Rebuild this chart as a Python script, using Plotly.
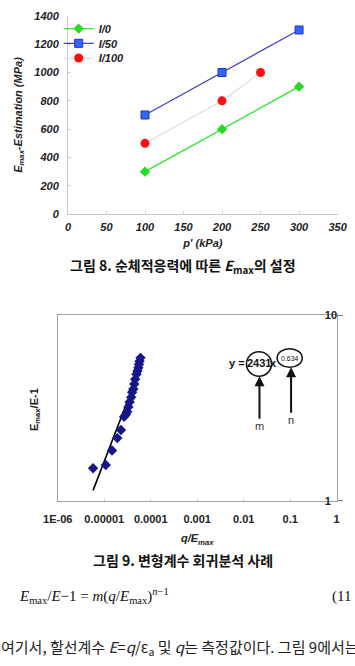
import plotly.graph_objects as go

W, H = 355, 666

# ---------- Figure 8 data ----------
p_i0 = [100, 200, 300]
e_i0 = [300, 600, 900]
p_i50 = [100, 200, 300]
e_i50 = [700, 1000, 1300]
p_i100 = [100, 200, 250]
e_i100 = [500, 800, 1000]
fig8_xticks = [0, 50, 100, 150, 200, 250, 300, 350]
fig8_yticks = [0, 200, 400, 600, 800, 1000, 1200, 1400]

# ---------- Figure 9 data ----------
q_over_emax = [5.75e-6, 1.08e-5, 1.47e-5, 1.91e-5, 2.29e-5, 2.67e-5, 2.92e-5,
               3.12e-5, 3.31e-5, 3.52e-5, 3.80e-5, 3.98e-5, 4.23e-5, 4.43e-5,
               4.63e-5, 4.94e-5, 5.18e-5, 5.42e-5, 5.57e-5, 5.75e-5, 6.03e-5]
emax_over_e_minus1 = [1.50, 1.56, 1.87, 2.18, 2.41, 2.84, 2.92, 3.02, 3.21, 3.41,
                      3.62, 3.85, 4.01, 4.26, 4.53, 4.81, 5.01, 5.22, 5.44, 5.66, 5.90]
trend_x = [5.75e-6, 6.3e-5]
trend_y = [1.14, 5.40]
fig9_xtickvals = [1e-6, 1e-5, 1e-4, 1e-3, 1e-2, 1e-1, 1]
fig9_xticktext = ["1E-06", "0.00001", "0.0001", "0.001", "0.01", "0.1", "1"]
fig9_ytickvals = [1, 10]
fig9_yticktext = ["1", "10"]


def px_x(v):
    return v / W


def px_y(v):
    return 1 - v / H


ARIAL = "Arial, Liberation Sans, sans-serif"
KR = "Noto Sans CJK KR, sans-serif"
SERIF = "Liberation Serif, Times New Roman, serif"

bi = dict(family=ARIAL, size=11, color="#222", weight="bold", style="italic")
bi_leg = dict(family=ARIAL, size=11, color="#222", weight="bold", style="italic")
b = dict(family=ARIAL, size=11, color="#222", weight="bold")

fig = go.Figure()

# Figure 8 traces
fig.add_trace(go.Scatter(x=p_i0, y=e_i0, name="I/0", mode="lines+markers",
                         line=dict(color="#33e633", width=1.3),
                         marker=dict(symbol="diamond", size=8, color="#22dd22"),
                         xaxis="x", yaxis="y", legend="legend"))
fig.add_trace(go.Scatter(x=p_i50, y=e_i50, name="I/50", mode="lines+markers",
                         line=dict(color="#4545c8", width=1.3),
                         marker=dict(symbol="square", size=8, color="#3366ff",
                                     line=dict(color="#2233bb", width=1)),
                         xaxis="x", yaxis="y", legend="legend2"))
fig.add_trace(go.Scatter(x=p_i100, y=e_i100, name="I/100", mode="lines+markers",
                         line=dict(color="#eadede", width=1.3),
                         marker=dict(symbol="circle", size=9, color="#ff1010"),
                         xaxis="x", yaxis="y", legend="legend3"))

# Figure 9 traces
fig.add_trace(go.Scatter(x=trend_x, y=trend_y, mode="lines",
                         line=dict(color="#000", width=1.6),
                         showlegend=False, xaxis="x2", yaxis="y2"))
fig.add_trace(go.Scatter(x=q_over_emax, y=emax_over_e_minus1, mode="markers",
                         marker=dict(symbol="diamond", size=8, color="#16168a"),
                         showlegend=False, xaxis="x2", yaxis="y2"))

leg_common = dict(font=bi_leg, bgcolor="rgba(0,0,0,0)", borderwidth=0,
                  xanchor="left", yanchor="middle", itemwidth=30)

fig.update_layout(
    width=W, height=H,
    margin=dict(l=0, r=0, t=0, b=0),
    paper_bgcolor="white", plot_bgcolor="white",
    legend=dict(x=px_x(47), y=px_y(23), **leg_common),
    legend2=dict(x=px_x(47), y=px_y(38), **leg_common),
    legend3=dict(x=px_x(47), y=px_y(53), **leg_common),
    xaxis=dict(domain=[px_x(57), px_x(347)], anchor="y", range=[0, 350],
               tickvals=fig8_xticks, tickfont=bi, showgrid=False,
               showline=True, linecolor="#c8c8c8", linewidth=1, mirror=False,
               ticks="inside", ticklen=3, tickcolor="#d0d0d0", zeroline=False,
               ticklabelstandoff=3,
               title=dict(text="p' (kPa)", font=bi, standoff=6)),
    yaxis=dict(domain=[px_y(212), px_y(10)], anchor="x", range=[0, 1400],
               tickvals=fig8_yticks, tickfont=bi, showgrid=False,
               showline=True, linecolor="#c8c8c8", linewidth=1,
               ticks="inside", ticklen=3, tickcolor="#d0d0d0", zeroline=False,
               ticklabelstandoff=6,
               title=dict(text="E<sub>max</sub>-Estimation (MPa)", font=bi, standoff=9)),
    xaxis2=dict(domain=[px_x(46), px_x(346)], anchor="y2", type="log",
                range=[-6, 0], tickvals=fig9_xtickvals, ticktext=fig9_xticktext,
                tickfont=b, showgrid=False, showline=True, linecolor="#a0a0a0",
                linewidth=1, mirror=True, ticks="inside", ticklen=3,
                tickcolor="#d8d8d8", zeroline=False, ticklabelstandoff=8,
                title=dict(text="<i>q/E</i><sub><i>max</i></sub>", font=b, standoff=10)),
    yaxis2=dict(domain=[px_y(504), px_y(315)], anchor="x2", type="log",
                range=[0, 1], tickvals=fig9_ytickvals, ticktext=fig9_yticktext,
                tickfont=b, side="right", ticklabelposition="outside",
                ticklabelstandoff=-20,
                showgrid=False, showline=True, linecolor="#a0a0a0", linewidth=1,
                mirror=True, ticks="outside", ticklen=5, tickcolor="#808080",
                zeroline=False),
)

annots = [
    dict(x=px_x(21), y=px_y(411), text="E<sub>max</sub>/E-1", textangle=-90,
         font=b, showarrow=False),
    dict(x=px_x(181), y=px_y(265),
         text="그림 8. 순체적응력에 따른 <i>E</i><sub>max</sub>의 설정",
         font=dict(family=KR, size=14, color="#111", weight="bold"), showarrow=False),
    dict(x=px_x(181), y=px_y(564), text="그림 9. 변형계수 회귀분석 사례",
         font=dict(family=KR, size=14, color="#111", weight="bold"), showarrow=False),
    dict(x=px_x(85), y=px_y(601),
         text="<i>E</i><sub>max</sub>/<i>E</i>\u22121 = <i>m</i>(<i>q</i>/<i>E</i><sub>max</sub>)<sup><i>n</i>\u22121</sup>",
         font=dict(family=SERIF, size=15, color="#111"), showarrow=False),
    dict(x=px_x(339), y=px_y(601), xanchor="left", text="(11",
         font=dict(family=SERIF, size=15, color="#111"), showarrow=False),
    dict(x=px_x(178), y=px_y(653),
         text="여기서, 할선계수 <i>E</i>=<i>q</i>/ε<sub>a</sub> 및 <i>q</i>는 측정값이다. 그림 9에서는",
         font=dict(family=KR, size=15, color="#222"), showarrow=False),
    dict(x=px_x(239), y=px_y(364), text="y =",
         font=dict(family=ARIAL, size=11, color="#111", weight="bold"), showarrow=False),
    dict(x=px_x(262.5), y=px_y(364), text="2431",
         font=dict(family=ARIAL, size=11, color="#111", weight="bold"), showarrow=False),
    dict(x=px_x(278.5), y=px_y(364), text="x",
         font=dict(family=ARIAL, size=11, color="#111", weight="bold"), showarrow=False),
    dict(x=px_x(295.5), y=px_y(359), text="0.634",
         font=dict(family=ARIAL, size=7, color="#111"), showarrow=False),
    dict(x=px_x(263), y=px_y(377), ax=0, ay=50, text="m",
         font=dict(family=ARIAL, size=11, color="#333333"), showarrow=True,
         arrowhead=2, arrowsize=1, arrowwidth=2, arrowcolor="#111"),
    dict(x=px_x(297), y=px_y(368), ax=0, ay=53, text="n",
         font=dict(family=ARIAL, size=11, color="#333333"), showarrow=True,
         arrowhead=2, arrowsize=1, arrowwidth=2, arrowcolor="#111"),
]
for a in annots:
    a.setdefault("xref", "paper")
    a.setdefault("yref", "paper")
    a.setdefault("xanchor", "center")
    a.setdefault("yanchor", "middle")
fig.update_layout(annotations=annots)

fig.update_layout(shapes=[
    dict(type="circle", xref="paper", yref="paper",
         x0=px_x(249), x1=px_x(276), y0=px_y(377), y1=px_y(352),
         line=dict(color="#111", width=1.5)),
    dict(type="circle", xref="paper", yref="paper",
         x0=px_x(282), x1=px_x(309), y0=px_y(368), y1=px_y(349),
         line=dict(color="#111", width=1.5)),
])

fig.write_html("out.html")
